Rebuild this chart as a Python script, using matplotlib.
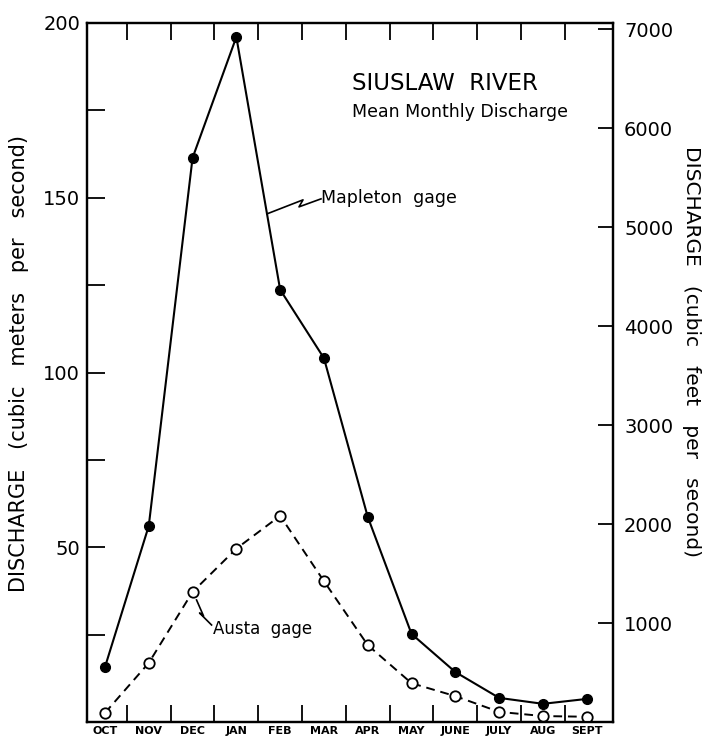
import numpy as np
import matplotlib
matplotlib.use("Agg")
import matplotlib.pyplot as plt
from matplotlib.ticker import FixedLocator, NullFormatter

# Mean monthly discharge, cubic meters per second
months = ["OCT", "NOV", "DEC", "JAN", "FEB", "MAR", "APR", "MAY", "JUNE", "JULY", "AUG", "SEPT"]
mapleton = [15.7, 56.1, 161.4, 196.0, 123.7, 104.1, 58.7, 25.2, 14.3, 6.9, 5.2, 6.6]
austa = [2.6, 16.9, 37.2, 49.6, 59.0, 40.3, 22.0, 11.1, 7.4, 2.9, 1.7, 1.5]

CFS_PER_CMS = 35.3147
left_ticks = [50, 100, 150, 200]
left_minor = [25, 75, 125, 175]
right_ticks = [1000, 2000, 3000, 4000, 5000, 6000, 7000]

FONT = "DejaVu Sans"
plt.rcParams["font.family"] = FONT

DPI = 100
W, H = 702, 737
fig = plt.figure(figsize=(W / DPI, H / DPI), dpi=DPI)
ax = fig.add_axes([87 / W, 15 / H, (613 - 87) / W, (722 - 23) / H])

x = np.arange(len(months))
ax.plot(x, mapleton, color="black", lw=1.5, marker="o", ms=7,
        mfc="black", mec="black", zorder=3)
ax.plot(x, austa, color="black", lw=1.4, linestyle=(0, (4.5, 3)), marker="o",
        ms=7.5, mfc="white", mec="black", mew=1.3, zorder=3)

ax.set_xlim(-0.41, 11.6)
ax.set_ylim(0, 200)

for s in ax.spines.values():
    s.set_linewidth(1.6)

# month boundaries as ticks on top and bottom, month names centred between them
ax.xaxis.set_major_locator(FixedLocator(x))
ax.set_xticklabels(months, fontsize=8, fontweight="bold")
ax.xaxis.set_minor_locator(FixedLocator(x[:-1] + 0.5))
ax.tick_params(axis="x", which="major", length=0, pad=3)
ax.tick_params(axis="x", which="minor", direction="in", length=12, width=1.3,
               top=True, bottom=True)

ax.yaxis.set_major_locator(FixedLocator(left_ticks))
ax.yaxis.set_minor_locator(FixedLocator(left_minor))
ax.yaxis.set_minor_formatter(NullFormatter())
ax.tick_params(axis="y", which="both", direction="in", length=13, width=1.3,
               labelsize=14, pad=5)

ax2 = ax.twinx()
ax2.set_ylim(0, 200 * CFS_PER_CMS)
ax2.yaxis.set_major_locator(FixedLocator(right_ticks))
ax2.tick_params(axis="y", direction="in", length=11, width=1.3, labelsize=14, pad=8)
for s in ax2.spines.values():
    s.set_linewidth(1.6)

# axis titles
fig.text(19 / W, 1 - 364 / H, "DISCHARGE   (cubic   meters   per   second)",
         fontsize=15, rotation=90, ha="center", va="center")
fig.text(692 / W, 1 - 352 / H, "DISCHARGE   (cubic   feet   per   second)",
         fontsize=14.5, rotation=-90, ha="center", va="center")

ax.text(0.504, 0.914, "SIUSLAW  RIVER", transform=ax.transAxes, fontsize=16.5,
        ha="left", va="center")
ax.text(0.504, 0.872, "Mean Monthly Discharge", transform=ax.transAxes, fontsize=12.5,
        ha="left", va="center")

# zig-zag leaders from each curve to its label, in pixel offsets
def leader(anchor, offsets, label, text_off, size):
    ax_disp = ax.transData.transform(anchor)
    pts = ax_disp + np.array(offsets, dtype=float)
    fig.add_artist(plt.Line2D(pts[:, 0], pts[:, 1], color="black", lw=1.2,
                              transform=None))
    tx, ty = ax_disp + np.array(text_off, dtype=float)
    fig.text(tx / fig.bbox.width, ty / fig.bbox.height, label, fontsize=size,
             ha="left", va="center")

t = 0.70
m_anchor = (3 + t, mapleton[3] + t * (mapleton[4] - mapleton[3]))
leader(m_anchor, [(0, 0), (36, 14), (32, 7), (54, 15)], "Mapleton  gage", (54, 16), 12.5)
leader((2, austa[2]), [(4, -8), (11, -24), (7, -21), (19, -33)], "Austa  gage", (20, -37), 12)

fig.savefig("out.png", dpi=DPI)
